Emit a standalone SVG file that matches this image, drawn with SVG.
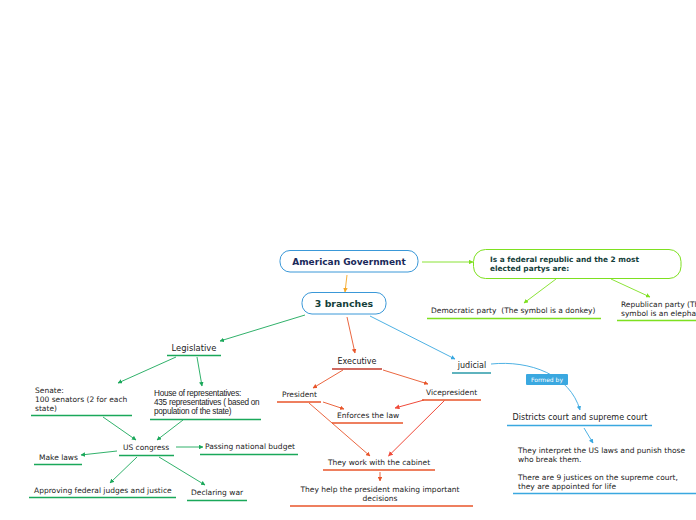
<svg xmlns="http://www.w3.org/2000/svg" width="696" height="520" viewBox="0 0 696 520">
<defs>
<marker id="ag" viewBox="0 0 10 10" refX="9" refY="5" markerWidth="5" markerHeight="5" orient="auto"><path d="M0,0 L10,5 L0,10 z" fill="#1aa85a"/></marker>
<marker id="ao" viewBox="0 0 10 10" refX="9" refY="5" markerWidth="5" markerHeight="5" orient="auto"><path d="M0,0 L10,5 L0,10 z" fill="#e8552a"/></marker>
<marker id="ar" viewBox="0 0 10 10" refX="9" refY="5" markerWidth="5" markerHeight="5" orient="auto"><path d="M0,0 L10,5 L0,10 z" fill="#f04a3a"/></marker>
<marker id="ay" viewBox="0 0 10 10" refX="9" refY="5" markerWidth="5" markerHeight="5" orient="auto"><path d="M0,0 L10,5 L0,10 z" fill="#f5a623"/></marker>
<marker id="al" viewBox="0 0 10 10" refX="9" refY="5" markerWidth="5" markerHeight="5" orient="auto"><path d="M0,0 L10,5 L0,10 z" fill="#7ee020"/></marker>
<marker id="ab" viewBox="0 0 10 10" refX="9" refY="5" markerWidth="5" markerHeight="5" orient="auto"><path d="M0,0 L10,5 L0,10 z" fill="#3aa8e0"/></marker>
</defs>
<style>
text{font-family:"DejaVu Sans",Verdana,sans-serif;font-size:7.5px;fill:#222}
.t{font-size:8.4px}
.c{text-anchor:middle}
.n{font-family:"Liberation Sans",Arial,sans-serif;font-size:8.2px;letter-spacing:-0.25px}
.ug{stroke:#1aa85a;stroke-width:1.5}
.uo{stroke:#e8552a;stroke-width:1.5}
.ul{stroke:#7ee020;stroke-width:1.5}
.ub{stroke:#3aa8e0;stroke-width:1.5}
.lg{stroke:#1aa85a;stroke-width:0.9;fill:none;marker-end:url(#ag)}
.lo{stroke:#e8552a;stroke-width:0.9;fill:none;marker-end:url(#ao)}
.lr{stroke:#f04a3a;stroke-width:1;fill:none;marker-end:url(#ar)}
.ll{stroke:#7ee020;stroke-width:0.9;fill:none;marker-end:url(#al)}
.lb{stroke:#3aa8e0;stroke-width:0.9;fill:none;marker-end:url(#ab)}
</style>
<rect width="696" height="520" fill="#fff"/>
<g id="connectors">
<path class="ll" d="M422,262 L473,262"/>
<path d="M347,275 L345,292" stroke="#f5a623" stroke-width="0.9" fill="none" marker-end="url(#ay)"/>
<path class="ll" d="M556,279 L524,303"/>
<path class="ll" d="M611,279 L650,297"/>
<path class="lg" d="M305,315 L220,341"/>
<path class="lo" d="M347,317 L355,353"/>
<path class="lb" d="M370,316 L455,359"/>
<path class="lb" d="M491,364 C530,360 570,375 580,410"/>
<path class="lb" d="M584,428 L593,443"/>
<path class="lg" d="M176,357 L118,383"/>
<path class="lg" d="M197,357 L202,386"/>
<path class="lg" d="M103,417 L136,440"/>
<path class="lg" d="M183,420 L157,440"/>
<path class="lg" d="M117,451 L81,455"/>
<path class="lg" d="M176,447 L203,447"/>
<path class="lg" d="M137,457 L110,483"/>
<path class="lg" d="M159,457 L205,485"/>
<path class="lo" d="M343,370 L313,388"/>
<path class="lo" d="M383,370 L428,384"/>
<path class="lo" d="M323,402 L344,409"/>
<path class="lr" d="M424,400 L395,408"/>
<path class="lo" d="M309,403 L370,456"/>
<path class="lr" d="M444.5,400.5 L388.5,456"/>
<path class="lo" d="M380,472 L380,481"/>
</g>
<g id="american-government">
<rect x="280" y="250.5" width="138" height="21.5" rx="10" fill="#fff" stroke="#3a98d8" stroke-width="1"/>
<text x="349" y="265" class="c" style="font-weight:bold;font-size:9px;fill:#1a2a5a">American Government</text>
</g>
<g id="three-branches">
<rect x="302" y="292.5" width="84" height="21.5" rx="10" fill="#fff" stroke="#3a98d8" stroke-width="1"/>
<text x="344" y="307" class="c" style="font-weight:bold;font-size:9.4px;fill:#14403a">3 branches</text>
</g>
<g id="federal">
<rect x="473.5" y="249.5" width="207.5" height="29" rx="12" fill="#fff" stroke="#7ee020" stroke-width="1"/>
<text x="490" y="262" style="font-weight:bold;font-size:7.4px;fill:#14403a">Is a federal republic and the 2 most</text>
<text x="490" y="271" style="font-weight:bold;font-size:7.4px;fill:#14403a">elected partys are:</text>
</g>
<g id="democratic">
<text x="431" y="313" xml:space="preserve">Democratic party  (The symbol is a donkey)</text>
<line class="ul" x1="427" y1="318.5" x2="601" y2="318.5"/>
</g>
<g id="republican">
<text x="621" y="307">Republican party (The</text>
<text x="621" y="316">symbol is an elephant)</text>
<line class="ul" x1="617" y1="320.5" x2="696" y2="320.5"/>
</g>
<g id="legislative">
<text x="194" y="351" class="c t">Legislative</text>
<line class="ug" x1="167" y1="355.5" x2="221" y2="355.5"/>
</g>
<g id="executive">
<text x="357" y="364" class="c" style="font-size:8px">Executive</text>
<line x1="332" y1="369" x2="382" y2="369" stroke="#c0392b" stroke-width="1.5"/>
</g>
<g id="judicial">
<text x="472" y="368" class="c" style="font-size:8px">judicial</text>
<line x1="452" y1="373" x2="491" y2="373" stroke="#2a9aa8" stroke-width="1.5"/>
</g>
<g id="formed-by">
<rect x="526" y="374" width="42" height="11" rx="1" fill="#3aa8e0"/>
<text x="547" y="382" class="c" style="font-size:6px;fill:#fff">Formed by</text>
</g>
<g id="districts">
<text x="580" y="420" class="c" style="font-size:8px">Districts court and supreme court</text>
<line class="ub" x1="507" y1="425.5" x2="652" y2="425.5"/>
</g>
<g id="interpret">
<text x="518" y="453">They interpret the US laws and punish those</text>
<text x="518" y="462">who break them.</text>
<text x="518" y="480">There are 9 justices on the supreme court,</text>
<text x="518" y="489">they are appointed for life</text>
<line class="ub" x1="513" y1="493.5" x2="696" y2="493.5"/>
</g>
<g id="senate">
<text x="35" y="393">Senate:</text>
<text x="35" y="402">100 senators (2 for each</text>
<text x="35" y="411">state)</text>
<line class="ug" x1="31" y1="415.5" x2="132" y2="415.5"/>
</g>
<g id="house">
<text x="154" y="396" class="n">House of representatives:</text>
<text x="154" y="405" class="n">435 representatives ( based on</text>
<text x="154" y="414" class="n">population of the state)</text>
<line class="ug" x1="150" y1="419.5" x2="261" y2="419.5"/>
</g>
<g id="us-congress">
<text x="146" y="450" class="c">US congress</text>
<line class="ug" x1="119" y1="455.5" x2="174" y2="455.5"/>
</g>
<g id="make-laws">
<text x="39" y="460">Make laws</text>
<line class="ug" x1="34" y1="464.5" x2="82" y2="464.5"/>
</g>
<g id="passing">
<text x="205" y="449">Passing national budget</text>
<line class="ug" x1="200" y1="454.5" x2="298" y2="454.5"/>
</g>
<g id="approving">
<text x="34" y="493">Approving federal judges and justice</text>
<line class="ug" x1="29" y1="497.5" x2="176" y2="497.5"/>
</g>
<g id="declaring">
<text x="191" y="495">Declaring war</text>
<line class="ug" x1="187" y1="500.5" x2="247" y2="500.5"/>
</g>
<g id="president">
<text x="282" y="397">President</text>
<line class="uo" x1="277" y1="402" x2="321" y2="402"/>
</g>
<g id="vicepresident">
<text x="426" y="395">Vicepresident</text>
<line class="uo" x1="422" y1="400" x2="481" y2="400"/>
</g>
<g id="enforces">
<text x="337" y="418">Enforces the law</text>
<line class="uo" x1="332" y1="423" x2="403" y2="423"/>
</g>
<g id="cabinet">
<text x="379" y="465" class="c">They work with the cabinet</text>
<line class="uo" x1="323" y1="470" x2="435" y2="470"/>
</g>
<g id="help">
<text x="380" y="492" class="c">They help the president making important</text>
<text x="380" y="501" class="c">decisions</text>
<line class="uo" x1="290" y1="506" x2="473" y2="506"/>
</g>
</svg>
